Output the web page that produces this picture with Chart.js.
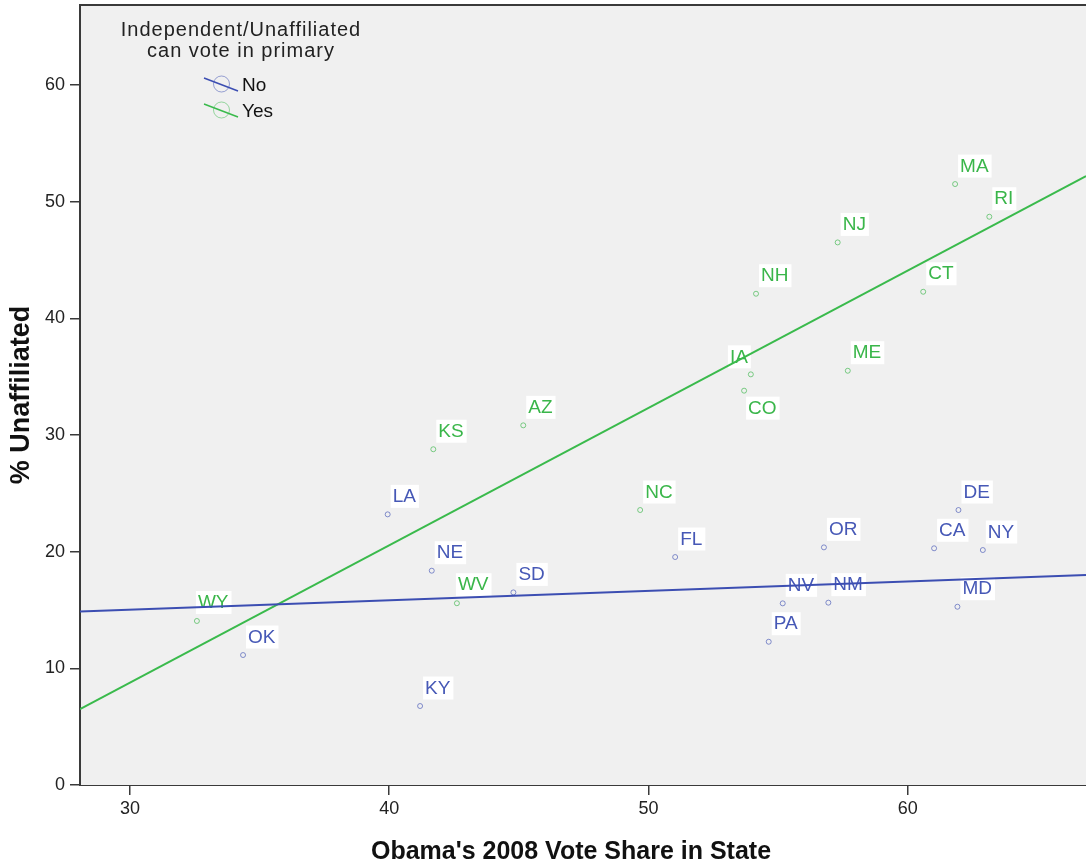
<!DOCTYPE html>
<html>
<head>
    <script src="https://cdn.jsdelivr.net/npm/chart.js@4.4.1/dist/chart.umd.min.js"></script>
    <style>
        body {
            margin: 0;
            background-color: #ffffff;
        }
        #scatter {
            display: block;
        }
    </style>
</head>
<body>
    <canvas id="scatter" width="1086" height="867"></canvas>
    <script>
        // states where independents can NOT vote in the primary
        var noStates = ['OK', 'KY', 'LA', 'NE', 'SD', 'FL', 'OR', 'NV', 'NM', 'PA', 'DE', 'CA', 'NY', 'MD'];
        var noObama = [34.36, 41.19, 39.94, 41.64, 44.79, 51.03, 56.77, 55.18, 56.94, 54.64, 61.96, 61.02, 62.9, 61.92];
        var noUnaffiliated = [11.14, 6.77, 23.2, 18.37, 16.51, 19.54, 20.37, 15.57, 15.63, 12.28, 23.57, 20.29, 20.14, 15.28];

        // states where they can
        var yesStates = ['WY', 'KS', 'WV', 'AZ', 'NC', 'NH', 'IA', 'CO', 'ME', 'NJ', 'CT', 'MA', 'RI'];
        var yesObama = [32.58, 41.7, 42.61, 45.17, 49.68, 54.15, 53.95, 53.69, 57.69, 57.3, 60.6, 61.83, 63.15];
        var yesUnaffiliated = [14.06, 28.78, 15.58, 30.83, 23.57, 42.11, 35.2, 33.8, 35.51, 46.51, 42.28, 51.51, 48.71];

        // fit lines, read at the two ends of the x axis
        var fitX = [28.07, 66.88];
        var noFitY = [14.87, 18.0];
        var yesFitY = [6.5, 52.2];

        var xTicks = [30, 40, 50, 60];
        var yTicks = [0, 10, 20, 30, 40, 50, 60];

        var legendTitle = ['Independent/Unaffiliated', 'can vote in primary'];
        var groupNames = ['No', 'Yes'];
        var xTitle = "Obama's 2008 Vote Share in State";
        var yTitle = '% Unaffiliated';

        var BLUE = 'rgb(60, 78, 178)';
        var GREEN = 'rgb(58, 186, 76)';
        var BLUE_TEXT = 'rgb(70, 88, 182)';
        var GREEN_TEXT = 'rgb(58, 182, 74)';
        var FONT = '"Liberation Sans", Arial, sans-serif';

        function toPoints(xs, ys) {
            return xs.map(function (x, i) { return { x: x, y: ys[i] }; });
        }

        // a few labels sit somewhere other than up-right of their point
        var labelPlace = { IA: 'left', CO: 'below', WY: 'up', WV: 'up' };

        var plotFrame = {
            id: 'plotFrame',
            beforeDatasetsDraw: function (chart) {
                var ctx = chart.ctx, a = chart.chartArea;
                ctx.save();
                ctx.fillStyle = '#f0f0f0';
                ctx.fillRect(a.left, a.top, a.right - a.left, a.bottom - a.top);
                ctx.strokeStyle = '#3a3a3a';
                ctx.lineWidth = 2;
                ctx.beginPath();
                ctx.moveTo(a.right + 2, a.top);
                ctx.lineTo(a.left, a.top);
                ctx.lineTo(a.left, a.bottom);
                ctx.stroke();
                ctx.restore();
            },
            afterDatasetDraw: function (chart, args) {
                // state labels go on after their points but under the fit lines
                if (args.index > 1) return;
                var ctx = chart.ctx;
                var names = args.index === 0 ? noStates : yesStates;
                ctx.save();
                ctx.font = '19px ' + FONT;
                ctx.textBaseline = 'middle';
                args.meta.data.forEach(function (pt, i) {
                    var name = names[i];
                    var w = ctx.measureText(name).width;
                    var place = labelPlace[name];
                    var tx = pt.x + 5, ty = pt.y - 18.5;
                    if (place === 'left') { tx = pt.x - 3 - w; ty = pt.y - 18; }
                    if (place === 'below') { tx = pt.x + 4; ty = pt.y + 17; }
                    if (place === 'up') { tx = pt.x + 1; ty = pt.y - 19; }
                    ctx.fillStyle = '#ffffff';
                    ctx.fillRect(tx - 2, ty - 11, w + 5, 23);
                    ctx.fillStyle = args.index === 0 ? BLUE_TEXT : GREEN_TEXT;
                    ctx.fillText(name, tx, ty + 1);
                });
                ctx.restore();
            },
            afterDraw: function (chart) {
                var ctx = chart.ctx;
                ctx.save();
                // axis titles
                ctx.fillStyle = '#111111';
                ctx.font = 'bold 25px ' + FONT;
                ctx.textAlign = 'center';
                ctx.textBaseline = 'middle';
                ctx.fillText(xTitle, 571, 852);
                ctx.font = 'bold 27px ' + FONT;
                ctx.translate(22, 395);
                ctx.rotate(-Math.PI / 2);
                ctx.fillText(yTitle, 0, 0);
                ctx.restore();

                // legend in the top-left corner of the plot
                ctx.save();
                ctx.fillStyle = '#222222';
                ctx.font = '20px ' + FONT;
                ctx.letterSpacing = '1px';
                ctx.textAlign = 'center';
                ctx.textBaseline = 'middle';
                ctx.fillText(legendTitle[0], 241, 30);
                ctx.fillText(legendTitle[1], 241, 51);
                ctx.letterSpacing = '0px';
                ctx.textAlign = 'left';
                ctx.font = '19px ' + FONT;
                var colors = [BLUE, GREEN];
                var pale = ['rgba(60, 78, 178, 0.5)', 'rgba(58, 186, 76, 0.5)'];
                groupNames.forEach(function (g, i) {
                    var cy = 85 + i * 26;
                    ctx.strokeStyle = pale[i];
                    ctx.lineWidth = 1;
                    ctx.beginPath();
                    ctx.arc(221.5, cy - 1, 8, 0, Math.PI * 2);
                    ctx.stroke();
                    ctx.strokeStyle = colors[i];
                    ctx.lineWidth = 1.5;
                    ctx.beginPath();
                    ctx.moveTo(204, cy - 7);
                    ctx.lineTo(238, cy + 6);
                    ctx.stroke();
                    ctx.fillStyle = '#111111';
                    ctx.fillText(g, 242, cy + 1);
                });
                ctx.restore();
            }
        };

        var ctx = document.getElementById('scatter').getContext('2d');
        var chart = new Chart(ctx, {
            type: 'scatter',
            data: {
                datasets: [{
                    label: groupNames[0],
                    data: toPoints(noObama, noUnaffiliated),
                    borderColor: 'rgba(70, 88, 182, 0.65)',
                    backgroundColor: 'transparent',
                    borderWidth: 1,
                    pointRadius: 2.5,
                    order: 1
                }, {
                    label: groupNames[1],
                    data: toPoints(yesObama, yesUnaffiliated),
                    borderColor: 'rgba(58, 182, 74, 0.65)',
                    backgroundColor: 'transparent',
                    borderWidth: 1,
                    pointRadius: 2.5,
                    order: 1
                }, {
                    type: 'line',
                    label: 'No fit',
                    data: toPoints(fitX, noFitY),
                    borderColor: BLUE,
                    borderWidth: 2,
                    pointRadius: 0,
                    order: 0
                }, {
                    type: 'line',
                    label: 'Yes fit',
                    data: toPoints(fitX, yesFitY),
                    borderColor: GREEN,
                    borderWidth: 2,
                    pointRadius: 0,
                    order: 0
                }]
            },
            options: {
                responsive: false,
                animation: false,
                layout: {
                    autoPadding: false,
                    padding: { top: 5, right: 0, left: 0, bottom: 0 }
                },
                scales: {
                    x: {
                        type: 'linear',
                        min: fitX[0],
                        max: fitX[1],
                        afterFit: function (scale) {
                            scale.height = 82;
                            scale.paddingLeft = 0;
                            scale.paddingRight = 0;
                        },
                        afterBuildTicks: function (scale) {
                            scale.ticks = xTicks.map(function (v) { return { value: v }; });
                        },
                        grid: { drawOnChartArea: false, tickLength: 10, color: '#3a3a3a', lineWidth: 1.5 },
                        border: { color: '#3a3a3a', width: 2 },
                        ticks: {
                            padding: 3,
                            color: '#222222',
                            font: { family: FONT, size: 18 }
                        }
                    },
                    y: {
                        min: 0,
                        max: 66.86,
                        afterFit: function (scale) {
                            scale.width = 80;
                            scale.paddingTop = 0;
                            scale.paddingBottom = 0;
                        },
                        afterBuildTicks: function (scale) {
                            scale.ticks = yTicks.map(function (v) { return { value: v }; });
                        },
                        grid: { drawOnChartArea: false, tickLength: 10, color: '#3a3a3a', lineWidth: 1.5 },
                        border: { color: '#3a3a3a', width: 2 },
                        ticks: {
                            padding: 5,
                            color: '#222222',
                            font: { family: FONT, size: 18 }
                        }
                    }
                },
                plugins: {
                    legend: { display: false },
                    tooltip: { enabled: false }
                }
            },
            plugins: [plotFrame]
        });
    </script>
</body>
</html>
